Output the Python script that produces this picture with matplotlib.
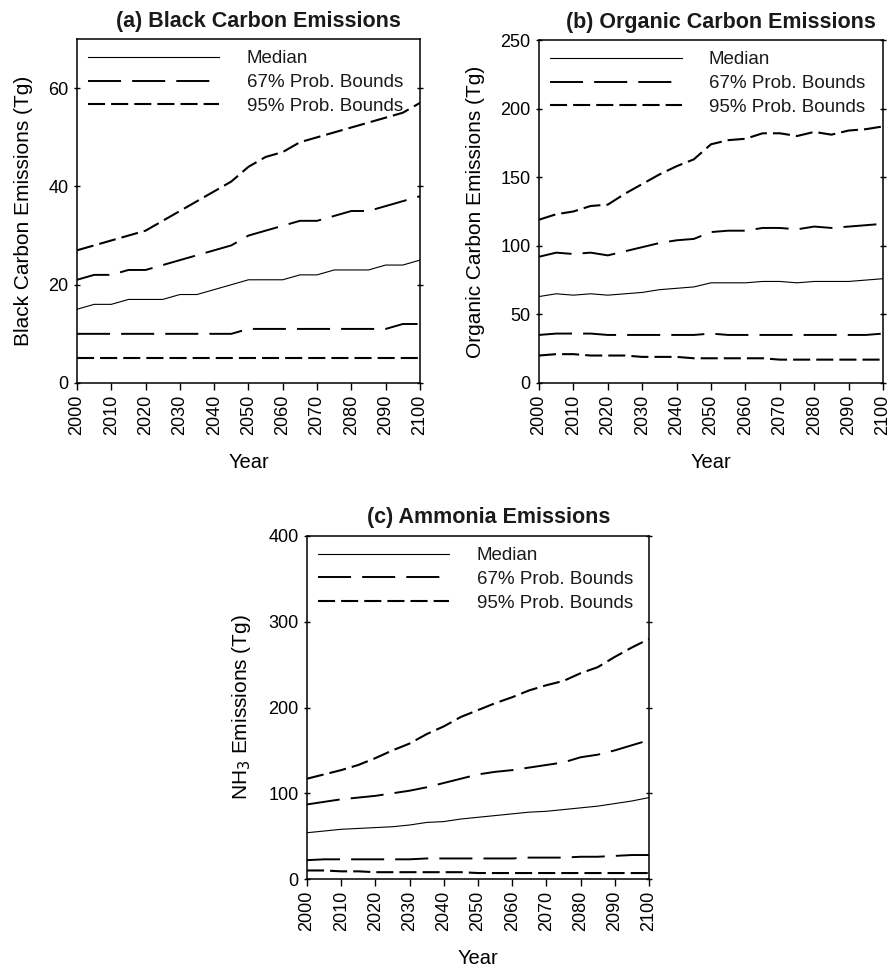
import matplotlib
matplotlib.use('Agg')
import matplotlib.pyplot as plt
import numpy as np

plt.rcParams['font.family'] = ['Liberation Sans', 'DejaVu Sans']
plt.rcParams['text.color'] = '#1a1a1a'

years = np.arange(2000, 2101, 5)

# (a) black carbon, Tg
bc_median = [15, 16, 16, 17, 17, 17, 18, 18, 19, 20, 21, 21, 21, 22, 22, 23, 23, 23, 24, 24, 25]
bc_hi67 = [21, 22, 22, 23, 23, 24, 25, 26, 27, 28, 30, 31, 32, 33, 33, 34, 35, 35, 36, 37, 38]
bc_lo67 = [10, 10, 10, 10, 10, 10, 10, 10, 10, 10, 11, 11, 11, 11, 11, 11, 11, 11, 11, 12, 12]
bc_hi95 = [27, 28, 29, 30, 31, 33, 35, 37, 39, 41, 44, 46, 47, 49, 50, 51, 52, 53, 54, 55, 57]
bc_lo95 = [5] * 21

# (b) organic carbon, Tg
oc_median = [63, 65, 64, 65, 64, 65, 66, 68, 69, 70, 73, 73, 73, 74, 74, 73, 74, 74, 74, 75, 76]
oc_hi67 = [92, 95, 94, 95, 93, 96, 99, 102, 104, 105, 110, 111, 111, 113, 113, 112, 114, 113, 114, 115, 116]
oc_lo67 = [35, 36, 36, 36, 35, 35, 35, 35, 35, 35, 36, 35, 35, 35, 35, 35, 35, 35, 35, 35, 36]
oc_hi95 = [119, 123, 125, 129, 130, 138, 145, 152, 158, 163, 174, 177, 178, 182, 182, 180, 183, 181, 184, 185, 187]
oc_lo95 = [20, 21, 21, 20, 20, 20, 19, 19, 19, 18, 18, 18, 18, 18, 17, 17, 17, 17, 17, 17, 17]

# (c) ammonia, Tg
nh3_median = [54, 56, 58, 59, 60, 61, 63, 66, 67, 70, 72, 74, 76, 78, 79, 81, 83, 85, 88, 91, 95]
nh3_hi67 = [87, 90, 93, 95, 97, 100, 103, 107, 112, 117, 122, 125, 127, 130, 133, 136, 142, 145, 150, 156, 162]
nh3_lo67 = [22, 23, 23, 23, 23, 23, 23, 24, 24, 24, 24, 24, 24, 25, 25, 25, 26, 26, 27, 28, 28]
nh3_hi95 = [117, 122, 127, 133, 141, 150, 158, 169, 178, 189, 197, 205, 212, 220, 226, 231, 240, 247, 259, 270, 280]
nh3_lo95 = [10, 10, 9, 9, 8, 8, 8, 8, 8, 8, 7, 7, 7, 7, 7, 7, 7, 7, 7, 7, 7]

labels = ['Median', '67% Prob. Bounds', '95% Prob. Bounds']

fig = plt.figure(figsize=(8.89, 9.71), dpi=100)


def panel(rect, title, ylabel, ymax, ystep, med, lo67, hi67, lo95, hi95):
    ax = fig.add_axes(rect)
    l1, = ax.plot(years, med, color='black', lw=0.8)
    l2, = ax.plot(years, hi67, color='black', lw=1.4, dashes=(17, 5.7))
    ax.plot(years, lo67, color='black', lw=1.4, dashes=(17, 5.7))
    l3, = ax.plot(years, hi95, color='black', lw=1.5, dashes=(8.2, 2.9))
    ax.plot(years, lo95, color='black', lw=1.5, dashes=(8.2, 2.9))

    ax.set_xlim(2000, 2100)
    ax.set_ylim(0, ymax)
    ax.set_xticks(np.arange(2000, 2101, 10))
    ax.set_yticks(np.arange(0, ymax + 1, ystep))
    ax.tick_params(axis='x', labelrotation=90, labelsize=13, direction='out', length=5, width=1)
    ax.tick_params(axis='y', labelsize=13, direction='out', length=5, width=1)
    ax.tick_params(axis='y', which='both', right=True, direction='inout', length=5)
    for s in ax.spines.values():
        s.set_linewidth(1.1)

    ax.set_title(title, fontsize=15.5, fontweight='bold', x=0.53, pad=9)
    ax.set_ylabel(ylabel, fontsize=15, labelpad=11)
    ax.set_xlabel('Year', fontsize=14.5, labelpad=13)

    ax.legend([l1, l2, l3], labels, loc='upper left', bbox_to_anchor=(0.0, 1.0),
              frameon=False, fontsize=13.5, handlelength=7.0, handletextpad=1.45,
              labelspacing=0.35, borderaxespad=0.2)
    return ax


panel([0.0866, 0.6056, 0.3858, 0.3542], '(a) Black Carbon Emissions',
      'Black Carbon Emissions (Tg)', 70, 20,
      bc_median, bc_lo67, bc_hi67, bc_lo95, bc_hi95)
panel([0.6063, 0.6056, 0.3870, 0.3532], '(b) Organic Carbon Emissions',
      'Organic Carbon Emissions (Tg)', 250, 50,
      oc_median, oc_lo67, oc_hi67, oc_lo95, oc_hi95)
panel([0.3453, 0.0947, 0.3847, 0.3533], '(c) Ammonia Emissions',
      'NH$_3$ Emissions (Tg)', 400, 100,
      nh3_median, nh3_lo67, nh3_hi67, nh3_lo95, nh3_hi95)

fig.savefig('out.png', dpi=100)
